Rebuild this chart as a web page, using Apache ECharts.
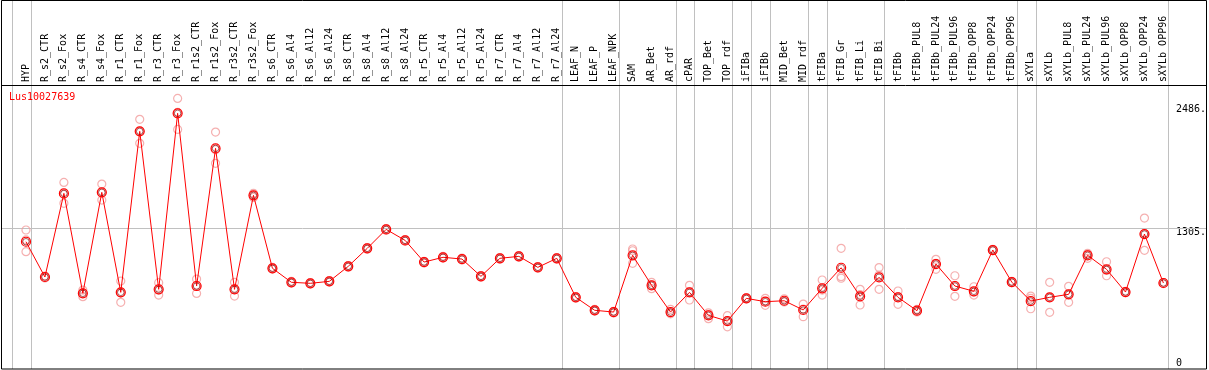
<!DOCTYPE html>
<html><head><meta charset="utf-8">
<script src="https://cdn.jsdelivr.net/npm/echarts@6/dist/echarts.min.js"></script>
<style>html,body{margin:0;padding:0;background:#fff}#c{width:1209px;height:370px}</style>
</head><body><div id="c"></div>
<script>
const categories = ["HYP","R_s2_CTR","R_s2_Fox","R_s4_CTR","R_s4_Fox","R_r1_CTR","R_r1_Fox","R_r3_CTR","R_r3_Fox","R_r1s2_CTR","R_r1s2_Fox","R_r3s2_CTR","R_r3s2_Fox","R_s6_CTR","R_s6_Al4","R_s6_Al12","R_s6_Al24","R_s8_CTR","R_s8_Al4","R_s8_Al12","R_s8_Al24","R_r5_CTR","R_r5_Al4","R_r5_Al12","R_r5_Al24","R_r7_CTR","R_r7_Al4","R_r7_Al12","R_r7_Al24","LEAF_N","LEAF_P","LEAF_NPK","SAM","AR_Bet","AR_rdf","cPAR","TOP_Bet","TOP_rdf","iFIBa","iFIBb","MID_Bet","MID_rdf","tFIBa","tFIB_Gr","tFIB_Li","tFIB_Bi","tFIBb","tFIBb_PUL8","tFIBb_PUL24","tFIBb_PUL96","tFIBb_OPP8","tFIBb_OPP24","tFIBb_OPP96","sXYLa","sXYLb","sXYLb_PUL8","sXYLb_PUL24","sXYLb_PUL96","sXYLb_OPP8","sXYLb_OPP24","sXYLb_OPP96"];
const means = [1173,833,1639,676,1649,685,2237,714,2411,746,2073,714,1620,917,782,772,791,936,1109,1292,1186,977,1023,1006,839,1013,1032,926,1013,637,512,495,1042,753,495,685,463,408,627,595,604,515,724,922,647,830,637,508,958,746,695,1093,784,601,637,666,1042,907,688,1247,775];
const rep1 = [1286,842,1745,707,1729,794,2353,778,2555,813,2230,782,1640,925,790,779,798,944,1117,1300,1194,985,1031,1014,847,1021,1040,934,1021,645,520,503,1103,782,521,753,488,460,632,627,623,572,804,1109,714,924,698,520,1003,845,739,1100,790,649,782,743,1061,980,695,1401,780];
const rep2 = [1190,833,1630,676,1645,680,2237,705,2420,750,2060,711,1620,917,782,772,791,936,1109,1292,1186,977,1023,1006,839,1013,1032,926,1013,637,512,495,1086,755,478,690,470,410,627,598,598,523,707,836,664,852,643,508,964,746,687,1093,784,627,637,666,1052,896,688,1250,775];
const rep3 = [1077,824,1543,643,1575,589,2122,659,2256,675,1929,649,1600,909,774,765,784,928,1101,1284,1178,969,1015,998,831,1005,1024,918,1005,629,504,487,965,720,488,611,431,353,622,560,592,450,659,821,563,714,570,496,907,647,659,1086,778,527,492,589,1013,845,681,1090,770];
const yTicks = [0, 1305, 2486];
const refValue = 1305;
const yMax = 2684;
const groupEnds = [-1, 0, 28, 31, 34, 35, 37, 38, 39, 41, 42, 45, 52, 53, 60];
const geneName = "Lus10027639";

const repData = [];
[rep1, rep2, rep3].forEach(r => r.forEach((v, i) => repData.push([i, v])));

const chart = echarts.init(document.getElementById('c'), null, {renderer: 'canvas'});
const mono = "'DejaVu Sans Mono', 'Liberation Mono', monospace";
chart.setOption({
  animation: false,
  grid: {left: 16.5, right: 33.5, top: 85, bottom: 6.6, containLabel: false},
  xAxis: {
    type: 'category', data: categories, position: 'top', boundaryGap: true,
    axisLine: {show: false}, axisTick: {show: false}, splitLine: {show: false},
    axisLabel: {rotate: 90, interval: 0, margin: 3, fontFamily: mono, fontSize: 10, color: '#000'}
  },
  yAxis: {
    type: 'value', position: 'right', min: 0, max: yMax,
    axisLine: {show: false}, axisTick: {show: false}, splitLine: {show: false},
    axisLabel: {
      customValues: yTicks, margin: 3, align: 'left', verticalAlign: 'middle',
      fontFamily: mono, fontSize: 10, color: '#000',
      formatter: v => v === 0 ? '{a|0}' : '{b|' + v + '.}',
      rich: {a: {fontFamily: mono, fontSize: 10, color: '#000'},
             b: {fontFamily: mono, fontSize: 10, color: '#000', padding: [8, 0, 0, 0]}}
    }
  },
  series: [
    {type: 'scatter', data: repData, symbol: 'circle', symbolSize: 8, z: 2,
     itemStyle: {color: 'rgba(0,0,0,0)', borderColor: '#f29c9c', borderWidth: 1.2}},
    {type: 'line', data: means, symbol: 'circle', symbolSize: 9, z: 3,
     lineStyle: {color: '#ff0000', width: 1},
     itemStyle: {color: 'rgba(0,0,0,0)', borderColor: '#ff0000', borderWidth: 1.2}},
    {type: 'scatter', data: means, symbol: 'circle', symbolSize: 6.5, z: 4,
     itemStyle: {color: 'rgba(0,0,0,0)', borderColor: '#7a0000', borderWidth: 0.8}}
  ]
});

const x0 = chart.convertToPixel({xAxisIndex: 0}, 0);
const x1 = chart.convertToPixel({xAxisIndex: 0}, 1);
const step = x1 - x0;
const yRef = chart.convertToPixel({yAxisIndex: 0}, refValue);
const els = [];
groupEnds.forEach(k => {
  const x = Math.round(x0 + k * step + 5) + 0.5;
  els.push({type: 'line', shape: {x1: x, y1: 0, x2: x, y2: 369}, style: {stroke: '#c0c0c0', lineWidth: 1}, z: 1});
});
const yr = Math.round(yRef) + 0.5;
els.push({type: 'line', shape: {x1: 1, y1: yr, x2: 1207, y2: yr}, style: {stroke: '#c0c0c0', lineWidth: 1}, z: 1});
els.push({type: 'line', shape: {x1: 1, y1: 85.5, x2: 1207, y2: 85.5}, style: {stroke: '#000', lineWidth: 1}, z: 5});
els.push({type: 'rect', shape: {x: 1.5, y: 0.5, width: 1205, height: 368.5}, style: {fill: null, stroke: '#000', lineWidth: 1}, z: 5});
els.push({type: 'text', left: 9, top: 92, style: {text: geneName, fill: '#ff0000', font: '10px ' + mono}, z: 6});
chart.setOption({graphic: {elements: els}});
</script></body></html>
